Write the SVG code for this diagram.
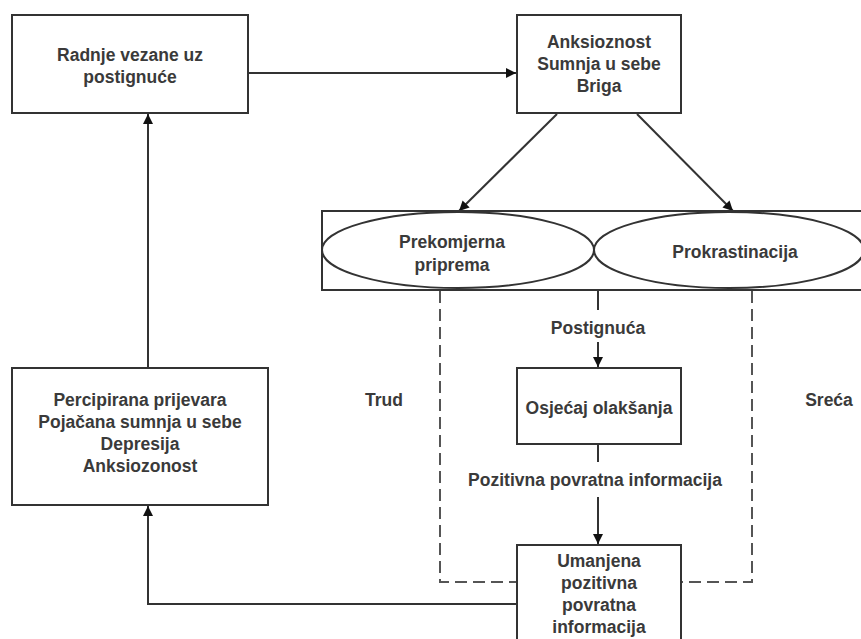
<svg xmlns="http://www.w3.org/2000/svg" width="861" height="639" viewBox="0 0 861 639">
<defs>
<style>
.box{fill:#fff;stroke:#333;stroke-width:2}
.ln{fill:none;stroke:#333;stroke-width:2}
.dash{fill:none;stroke:#555;stroke-width:2;stroke-dasharray:12,6}
text{font-family:"Liberation Sans",Arial,sans-serif;font-weight:bold;font-size:17.5px;fill:#3a3a3a;text-anchor:middle}
</style>
<marker id="ah" viewBox="0 0 10 10" refX="10" refY="5" markerWidth="10" markerHeight="10" markerUnits="userSpaceOnUse" orient="auto">
<path d="M0,0 L10,5 L0,10 z" fill="#111"/>
</marker>
</defs>
<rect width="861" height="639" fill="#fff"/>
<g id="connectors">
<line class="ln" x1="248" y1="73" x2="516" y2="73" marker-end="url(#ah)"/>
<line class="ln" x1="557" y1="114" x2="459" y2="211" marker-end="url(#ah)"/>
<line class="ln" x1="637" y1="114" x2="733" y2="211" marker-end="url(#ah)"/>
<line class="ln" x1="598" y1="290" x2="598" y2="310"/>
<line class="ln" x1="598" y1="342" x2="598" y2="367" marker-end="url(#ah)"/>
<line class="ln" x1="598" y1="444" x2="598" y2="462"/>
<line class="ln" x1="598" y1="497" x2="598" y2="544" marker-end="url(#ah)"/>
<path class="ln" d="M517,604 H148 V506" marker-end="url(#ah)"/>
<line class="ln" x1="148" y1="368" x2="148" y2="114" marker-end="url(#ah)"/>
<path class="dash" d="M440,291 V582 H517"/>
<path class="dash" d="M752,291 V582 H681"/>
</g>
<g id="n1">
<rect class="box" x="12" y="15" width="236" height="98"/>
<text x="130" y="61">Radnje vezane uz</text>
<text x="130" y="83">postignuće</text>
</g>
<g id="n2">
<rect class="box" x="517" y="15" width="164" height="98"/>
<text x="599" y="48">Anksioznost</text>
<text x="599" y="70">Sumnja u sebe</text>
<text x="599" y="92">Briga</text>
</g>
<g id="n3">
<rect class="box" x="322" y="211" width="545" height="79"/>
<ellipse class="box" cx="458" cy="250" rx="136" ry="38"/>
<ellipse class="box" cx="729" cy="250" rx="135" ry="38"/>
<text x="452" y="248">Prekomjerna</text>
<text x="452" y="271">priprema</text>
<text x="735" y="258">Prokrastinacija</text>
</g>
<g id="n4">
<rect class="box" x="517" y="368" width="164" height="76"/>
<text x="599" y="414">Osjećaj olakšanja</text>
</g>
<g id="n5">
<rect class="box" x="517" y="545" width="164" height="100"/>
<text x="599" y="567">Umanjena</text>
<text x="599" y="589">pozitivna</text>
<text x="599" y="611">povratna</text>
<text x="599" y="633">informacija</text>
</g>
<g id="n6">
<rect class="box" x="12" y="368" width="256" height="137"/>
<text x="140" y="406">Percipirana prijevara</text>
<text x="140" y="428">Pojačana sumnja u sebe</text>
<text x="140" y="450">Depresija</text>
<text x="140" y="472">Anksiozonost</text>
</g>
<g id="labels">
<text x="598" y="334">Postignuća</text>
<text x="595" y="486">Pozitivna povratna informacija</text>
<text x="384" y="406">Trud</text>
<text x="829" y="406">Sreća</text>
</g>
</svg>
